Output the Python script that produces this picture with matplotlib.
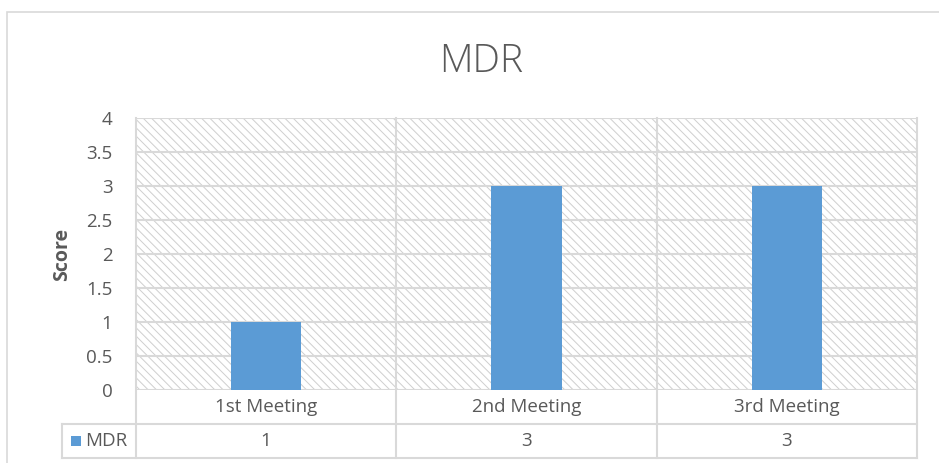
import matplotlib
matplotlib.use("Agg")
import matplotlib.pyplot as plt
from matplotlib.patches import Rectangle
from matplotlib.lines import Line2D
import matplotlib.transforms as mtransforms

# data
categories = ["1st Meeting", "2nd Meeting", "3rd Meeting"]
mdr_scores = [1, 3, 3]
series_name = "MDR"
y_ticks = [0, 0.5, 1, 1.5, 2, 2.5, 3, 3.5, 4]

W, H = 939, 463
text_col = "#595959"
grid_col = "#d9d9d9"
bar_col = "#5b9bd5"

plt.rcParams['font.family'] = ['Open Sans', 'DejaVu Sans']
plt.rcParams['hatch.linewidth'] = 0.7
plt.rcParams['hatch.color'] = '#cfcfcf'

fig = plt.figure(figsize=(W / 100, H / 100), dpi=100)


def fx(x):
    return x / W


def fy(y):
    return 1 - y / H


# outer chart border
fig.add_artist(Rectangle((fx(7), fy(475)), fx(950) - fx(7), fy(12) - fy(475),
                         transform=fig.transFigure, fill=False,
                         edgecolor=grid_col, linewidth=1.2))

# plot area
left, right, top, bottom = 136, 917, 118, 390
ax = fig.add_axes([fx(left), fy(bottom), fx(right) - fx(left), fy(top) - fy(bottom)])
ax.set_xlim(-0.5, len(categories) - 0.5)
ax.set_ylim(0, 4)

# hatched background
ax.add_patch(Rectangle((0, 0), 1, 1, transform=ax.transAxes, facecolor='white',
                       edgecolor='#cfcfcf', hatch='\\\\\\\\', linewidth=0, zorder=0))

for yv in y_ticks:
    ax.axhline(yv, color=grid_col, lw=1.5, zorder=1)

xs = list(range(len(categories)))
ax.bar(xs, mdr_scores, width=0.27, color=bar_col, zorder=3)

for s in ax.spines.values():
    s.set_visible(False)

ax.set_xticks([])
ax.set_yticks(y_ticks)
ax.set_yticklabels([f"{v:g}" for v in y_ticks], fontsize=13.5, color=text_col)
ax.tick_params(axis='y', length=0, pad=17)

fig.text(fx(62), fy(254), "Score", rotation=90, ha='center', va='center',
         fontsize=14, fontweight='bold', color=text_col)

fig.text(fx(481), fy(62), "MDR", ha='center', va='center', fontsize=28,
         color=text_col, fontweight='light')

# data table below the axes
trans = mtransforms.blended_transform_factory(ax.transData, ax.transAxes)
row_h = 34 / (bottom - top)
for b in [i - 0.5 for i in range(len(categories) + 1)]:
    ax.plot([b, b], [-2 * row_h, 1], color=grid_col, lw=1.5, transform=trans,
            clip_on=False, zorder=2)
for i, (cat, val) in enumerate(zip(categories, mdr_scores)):
    ax.text(i, -0.5 * row_h, cat, transform=trans, ha='center', va='center',
            fontsize=13.5, color=text_col)
    ax.text(i, -1.5 * row_h, f"{val}", transform=trans, ha='center', va='center',
            fontsize=13.5, color=text_col)

# table horizontal lines incl. legend cell
for yy in [424, 458]:
    fig.add_artist(Line2D([fx(62), fx(right)], [fy(yy), fy(yy)], transform=fig.transFigure,
                          color=grid_col, lw=1.5))
fig.add_artist(Line2D([fx(62), fx(62)], [fy(424), fy(458)], transform=fig.transFigure,
                      color=grid_col, lw=1.5))

# legend key in table
fig.add_artist(Rectangle((fx(71), fy(446)), fx(10), fy(436) - fy(446),
                         transform=fig.transFigure, facecolor=bar_col, edgecolor='none'))
fig.text(fx(85), fy(441), series_name, ha='left', va='center', fontsize=13.5, color=text_col)

fig.savefig("out.png", dpi=100, facecolor='white')
